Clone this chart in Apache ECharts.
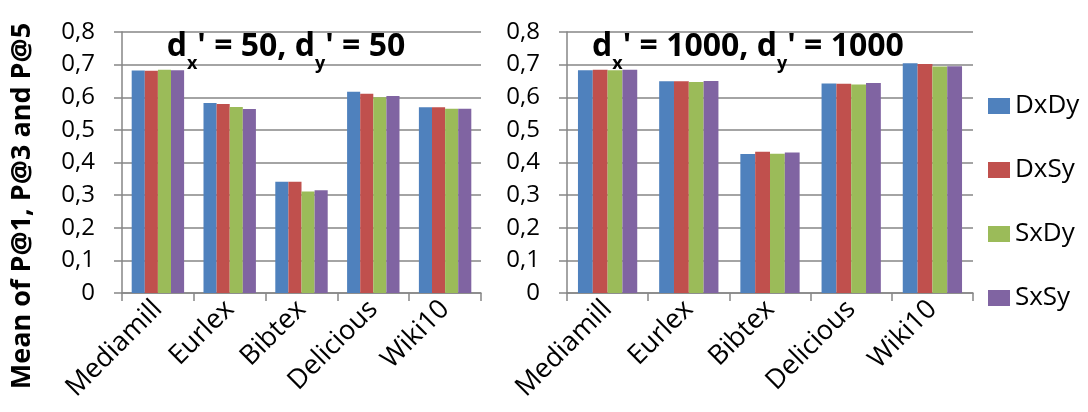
<!DOCTYPE html>
<html>
<head>
<meta charset="utf-8">
<script src="https://cdn.jsdelivr.net/npm/echarts@6/dist/echarts.min.js"></script>
<style>
html,body{margin:0;padding:0;background:#fff;}
#c{width:1088px;height:412px;}
</style>
</head>
<body>
<div id="c"></div>
<script>
const categories = ['Mediamill', 'Eurlex', 'Bibtex', 'Delicious', 'Wiki10'];
const seriesNames = ['DxDy', 'DxSy', 'SxDy', 'SxSy'];
const yTickLabels = ['0', '0,1', '0,2', '0,3', '0,4', '0,5', '0,6', '0,7', '0,8'];

// Left panel: dx' = 50, dy' = 50
const leftDxDy = [0.682, 0.582, 0.341, 0.617, 0.569];
const leftDxSy = [0.681, 0.579, 0.341, 0.611, 0.569];
const leftSxDy = [0.684, 0.570, 0.311, 0.600, 0.565];
const leftSxSy = [0.683, 0.564, 0.315, 0.604, 0.565];

// Right panel: dx' = 1000, dy' = 1000
const rightDxDy = [0.683, 0.649, 0.426, 0.642, 0.704];
const rightDxSy = [0.684, 0.649, 0.433, 0.641, 0.702];
const rightSxDy = [0.683, 0.647, 0.427, 0.639, 0.694];
const rightSxSy = [0.684, 0.650, 0.431, 0.644, 0.695];

const colors = ['#4F81BD', '#C0504D', '#9BBB59', '#8064A2'];
const FONT = '"Open Sans", Lato, sans-serif';
const gridColor = '#868686';

const leftData = [leftDxDy, leftDxSy, leftSxDy, leftSxSy];
const rightData = [rightDxDy, rightDxSy, rightSxDy, rightSxSy];

function xAxisCfg(gridIndex) {
  return {
    type: 'category', gridIndex: gridIndex, data: categories,
    axisLine: {lineStyle: {color: gridColor, width: 1.5}},
    axisTick: {show: true, length: 8, lineStyle: {color: gridColor, width: 1.5}},
    axisLabel: {rotate: 45, margin: 12, color: '#000', fontFamily: FONT, fontSize: 27}
  };
}
function yAxisCfg(gridIndex) {
  return {
    type: 'value', gridIndex: gridIndex, min: 0, max: 0.8, interval: 0.1,
    axisLine: {show: true, lineStyle: {color: gridColor, width: 1.5}},
    axisTick: {show: true, length: 8, lineStyle: {color: gridColor, width: 1.5}},
    splitLine: {show: true, lineStyle: {color: gridColor, width: 1.5}},
    axisLabel: {
      margin: 27, color: '#000', fontFamily: FONT, fontSize: 24,
      formatter: function (v) { return yTickLabels[Math.round(v * 10)]; }
    }
  };
}

const series = [];
[leftData, rightData].forEach(function (panel, gi) {
  panel.forEach(function (vals, si) {
    series.push({
      name: seriesNames[si], type: 'bar', xAxisIndex: gi, yAxisIndex: gi,
      data: vals, barGap: '0%', barCategoryGap: '27%',
      itemStyle: {color: colors[si]}
    });
  });
});

const titleRich = {
  m: {fontFamily: FONT, fontSize: 32, fontWeight: 'bold', color: '#000', lineHeight: 34, verticalAlign: 'top'},
  s: {fontFamily: FONT, fontSize: 18, fontWeight: 'bold', color: '#000', lineHeight: 18, verticalAlign: 'top', padding: [24, 0, 0, 0]}
};

const chart = echarts.init(document.getElementById('c'), null, {renderer: 'canvas'});
chart.setOption({
  animation: false,
  backgroundColor: '#fff',
  color: colors,
  title: [
    {text: "{m|d}{s|x}{m|' = 50, d}{s|y}{m|' = 50}", left: 286, top: 31, textAlign: 'center', padding: 0,
     textStyle: {rich: titleRich}},
    {text: "{m|d}{s|x}{m|' = 1000, d}{s|y}{m|' = 1000}", left: 748, top: 31, textAlign: 'center', padding: 0,
     textStyle: {rich: titleRich}}
  ],
  legend: {
    orient: 'vertical', left: 983, top: 88, itemWidth: 22, itemHeight: 16, itemGap: 38,
    icon: 'rect', data: seriesNames,
    textStyle: {fontFamily: FONT, fontSize: 26, color: '#000', padding: [0, 0, 0, 0]}
  },
  grid: [
    {left: 122, top: 32, width: 359, height: 261},
    {left: 567, top: 32, width: 406, height: 261}
  ],
  xAxis: [xAxisCfg(0), xAxisCfg(1)],
  yAxis: [yAxisCfg(0), yAxisCfg(1)],
  graphic: [{
    type: 'text', x: 22, y: 206, rotation: Math.PI / 2,
    style: {text: 'Mean of P@1, P@3 and P@5', fontFamily: FONT, fontSize: 27, fontWeight: 'bold',
            fill: '#000', align: 'center', verticalAlign: 'middle'}
  }],
  series: series
});
</script>
</body>
</html>
